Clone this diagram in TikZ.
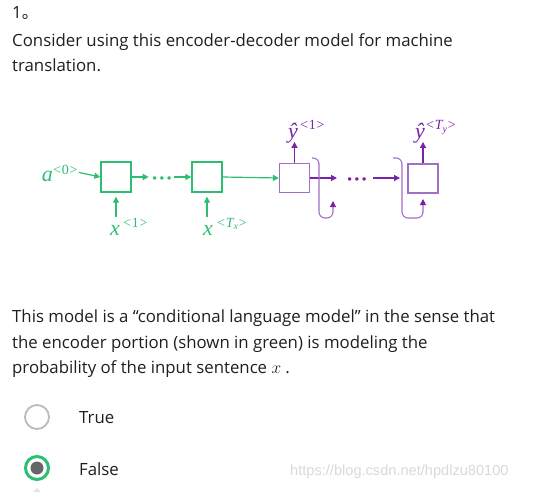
\documentclass[tikz,border=0pt]{standalone}
\usepackage{fontspec}
\setmainfont{Open Sans}
\newfontfamily\cjk{Noto Sans CJK SC}
\newfontfamily\serifit{Liberation Serif}
\newfontfamily\wmfont{Liberation Sans}
\usetikzlibrary{arrows.meta}
\definecolor{encgreen}{HTML}{2DBE73}
\definecolor{decbox}{HTML}{A070C8}
\definecolor{decarr}{HTML}{7A22A8}
\definecolor{bodytext}{HTML}{1F1F1F}
\definecolor{radiogray}{HTML}{BBBBBB}
\definecolor{dotgray}{HTML}{666666}
\definecolor{wmgray}{HTML}{D9D9D9}
\newcommand\mlet[1]{{\serifit\itshape\fontsize{22}{22}\selectfont #1}}
\newcommand\msup[1]{{\serifit\fontsize{14}{14}\selectfont #1}}
\newcommand\lt{<\kern0.8pt}
\newcommand\gt{\kern0.8pt>}
\newcommand\threedots{·\kern1.5pt·\kern1.5pt·}
\begin{document}
\begin{tikzpicture}[x=1pt,y=-1pt,
  txt/.style={anchor=base west,inner sep=0pt,text=bodytext,font=\fontsize{16.8}{25}\selectfont},
  ebox/.style={draw=encgreen,line width=1.4pt,minimum width=30pt,minimum height=30pt,inner sep=0pt},
  dbox/.style={draw=decbox,line width=1.4pt,minimum width=30pt,minimum height=29pt,inner sep=0pt},
  garr/.style={draw=encgreen,line width=1.2pt,-{Triangle[length=6pt,width=6pt]}},
  parr/.style={draw=decarr,line width=1.2pt,-{Triangle[length=6pt,width=6pt]}},
  brk/.style={draw=decbox,line width=1.1pt,rounded corners=6pt,-{Triangle[length=6pt,width=6pt,color=decarr]}},
  glab/.style={inner sep=0pt,anchor=base,text=encgreen},
  plab/.style={inner sep=0pt,anchor=base,text=decarr},
  gsup/.style={inner sep=0pt,anchor=base west,text=encgreen},
  psup/.style={inner sep=0pt,anchor=base west,text=decarr},
  dots/.style={inner sep=0pt,font=\bfseries\fontsize{20}{20}\selectfont}
]
\useasboundingbox[fill=white] (0,0) rectangle (557,492);

% header text
\node[txt] (num) at (12,19) {1\cjk 。};
\node[txt] (l1) at (12,47) {Consider using this encoder-decoder model for machine};
\node[txt] (l2) at (12,72) {translation.};

% encoder
\node[ebox] (e1) at (116,177) {};
\node[ebox] (e2) at (207,177) {};
\node[glab,anchor=base east] (a0) at (53,182) {\mlet{a}};
\node[gsup] (a0s) at (53,175) {\msup{\lt0\gt}};
\node[dots,text=encgreen] (gd) at (162,181) {\threedots};
\draw[garr] (a0s.east) ++(1,2) coordinate (a0e) -- (e1.west);
\draw[garr] (e1.east) -- ([xshift=-3pt]e1.east -| gd.west);
\draw[garr] ([xshift=2pt]gd.east |- e2.west) -- (e2.west);

\node[glab] (x1) at (115,235) {\mlet{x}};
\node[gsup] (x1s) at (123,227) {\msup{\lt1\gt}};
\node[glab] (x2) at (208,235) {\mlet{x}};
\node[gsup] (x2s) at (217,227) {\msup{\lt{\itshape T}\raisebox{-2.5pt}{\fontsize{10}{10}\selectfont\itshape x}\gt}};
\draw[garr,shorten <=8pt,shorten >=4pt] (x1.north -| e1.south) -- (e1.south);
\draw[garr,shorten <=8pt,shorten >=4pt] (x2.north -| e2.south) -- (e2.south);

% decoder
\node[dbox] (d1) at (294.5,178) {};
\node[dbox] (d2) at (423,178.5) {};
\draw[garr] (e2.east) -- (d1.west);

\node[plab] (y1) at (293,139) {\mlet{\^{y}}};
\node[psup] (y1s) at (300,130) {\msup{\lt1\gt}};
\node[plab] (y2) at (420,139) {\mlet{\^{y}}};
\node[psup] (y2s) at (426,130) {\msup{\lt{\itshape T}\raisebox{-2.5pt}{\fontsize{10}{10}\selectfont\itshape y}\gt}};
\draw[parr,shorten >=-2pt] (d1.north) -- (d1.north |- y1.south);
\draw[parr,shorten >=-2pt] (d2.north) -- (d2.north |- y2.south);

\coordinate (c1) at (337,178);
\node[dots,text=decarr] (pd) at (357,182) {\threedots};
\coordinate (c2) at (400,178);
\draw[parr] (d1.east) -- (c1);
\draw[parr] ([xshift=6pt]pd.east |- c2) -- (c2);

\coordinate (b1s) at (312,158);
\coordinate (b1e) at (333,201);
\draw[brk] (b1s) -- (319,158) -- (319,218) -- (333,218) -- (b1e);
\coordinate (b2s) at (393,158);
\coordinate (b2e) at (423,199);
\draw[brk] (b2s) -- (402,158) -- (402,218) -- (423,218) -- (b2e);

% question text
\node[txt] (q1) at (12,322) {This model is a “conditional language model” in the sense that};
\node[txt] (q2) at (12,348) {the encoder portion (shown in green) is modeling the};
\node[txt] (q3) at (12,373) {probability of the input sentence $x$ .};

% options
\node[circle,draw=radiogray,line width=1.8pt,minimum size=24pt,inner sep=0pt] (r1) at (37,417) {};
\node[txt] (t1) at (79,423) {True};
\node[circle,draw=encgreen,line width=3pt,minimum size=23pt,inner sep=0pt] (r2) at (37,468) {};
\node[circle,fill=dotgray,minimum size=13pt,inner sep=0pt] (r2d) at (r2) {};
\node[txt] (t2) at (79,475) {False};
\node[inner sep=0pt,anchor=base west,text=wmgray,font=\wmfont\fontsize{14.6}{14.6}\selectfont] (wm) at (290,475) {https://blog.csdn.net/hpdlzu80100};
\fill[wmgray!70] (33,492) -- (37,488) -- (41,492) -- cycle;
\end{tikzpicture}
\end{document}
